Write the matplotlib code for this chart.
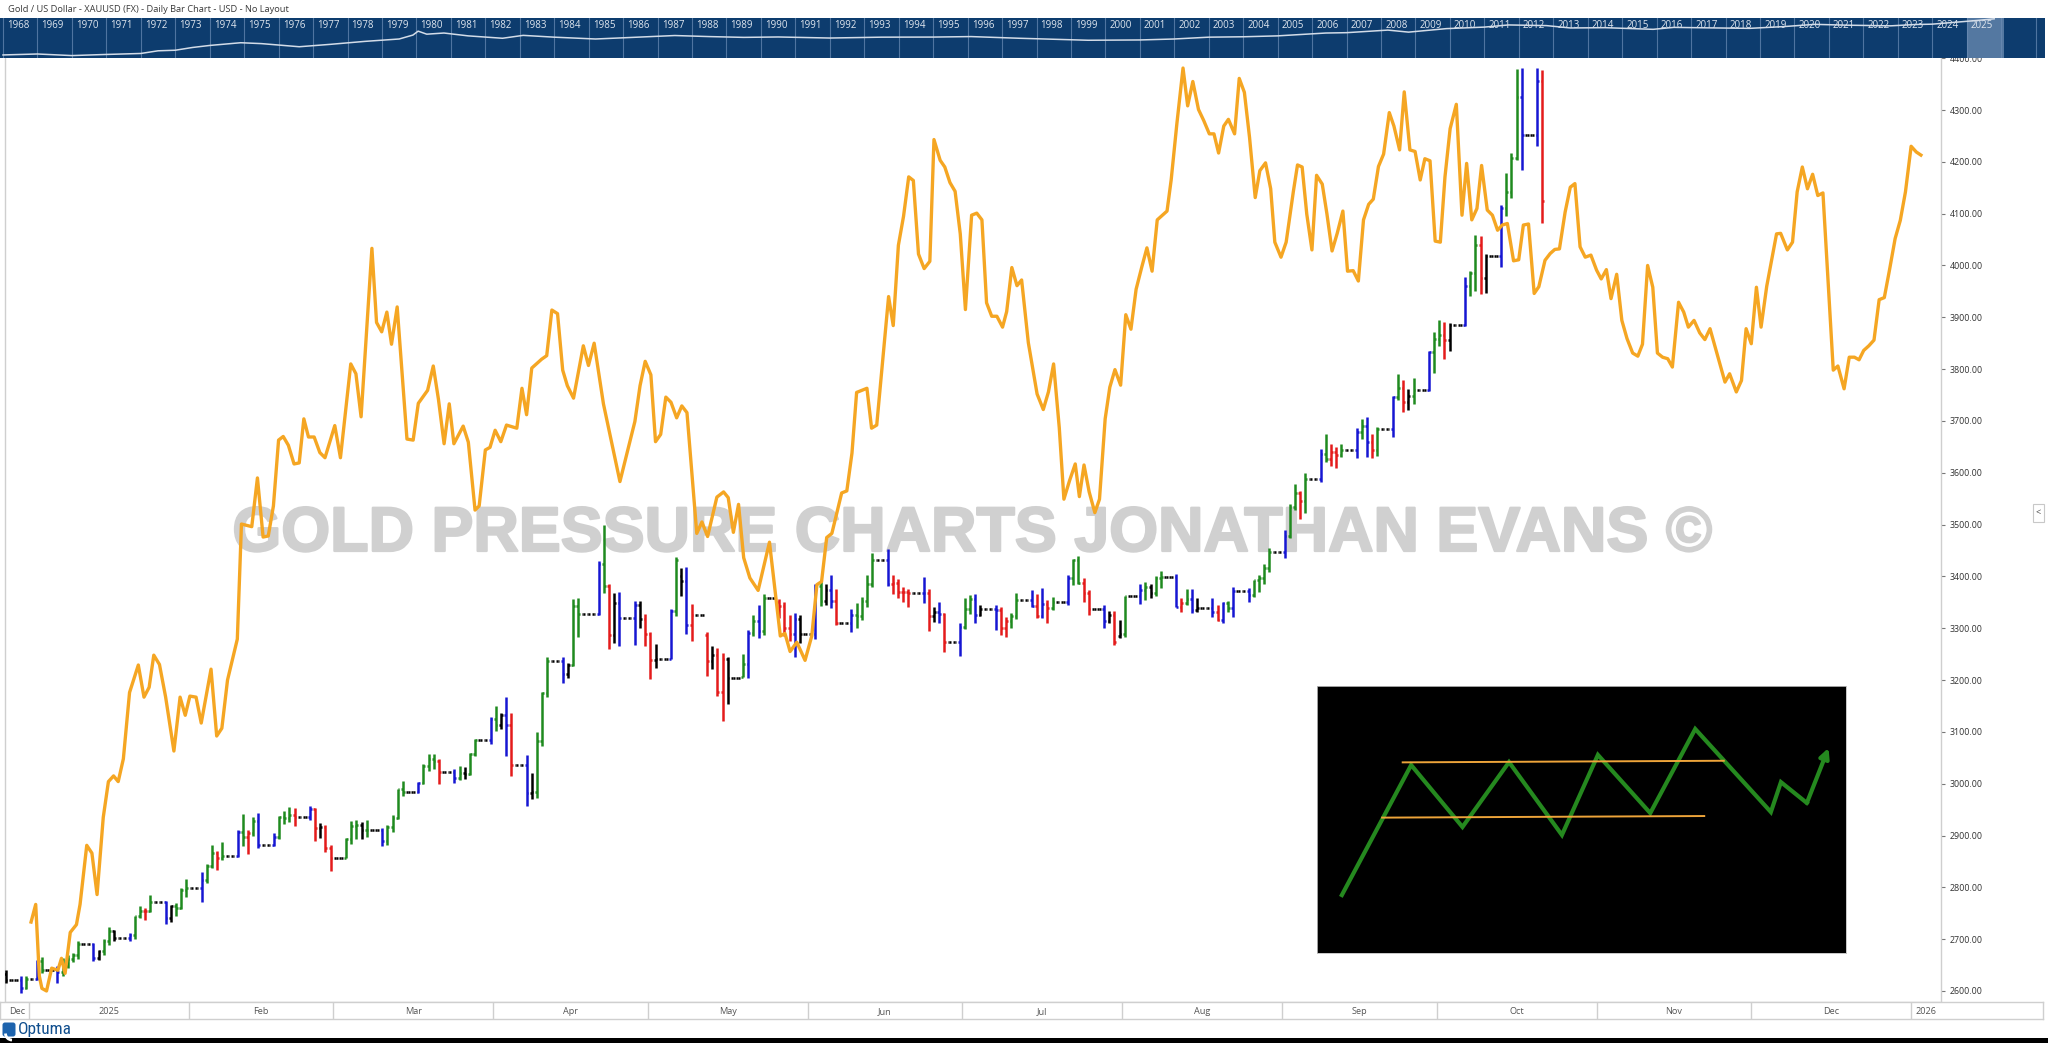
import numpy as np
import pandas as pd
import matplotlib
matplotlib.use("Agg")
import matplotlib.pyplot as plt
import matplotlib.dates as mdates
import matplotlib.patheffects as pe
from matplotlib.collections import LineCollection
from matplotlib.patches import Rectangle, FancyBboxPatch, Arc

# ------------------------------------------------------------------ data
TITLE = "Gold / US Dollar - XAUUSD (FX) - Daily Bar Chart - USD - No Layout"
WATERMARK = "GOLD PRESSURE CHARTS JONATHAN EVANS \u00a9"
LOGO_TEXT = "Optuma"

price_ticks = [2600, 2700, 2800, 2900, 3000, 3100, 3200, 3300, 3400, 3500,
               3600, 3700, 3800, 3900, 4000, 4100, 4200, 4300, 4400]
month_labels = ["Dec", "2025", "Feb", "Mar", "Apr", "May", "Jun", "Jul",
                "Aug", "Sep", "Oct", "Nov", "Dec", "2026"]
nav_years_labels = list(range(1968, 2026))
holidays = ["2025-01-01", "2025-04-18"]

# daily XAUUSD bars (open, high, low, close) for trading days
ohlc_2024_12 = [(2633, 2640, 2616, 2621), (2621, 2628, 2597, 2606), (2606, 2629, 2603, 2624)]
ohlc_2025_01 = [
    (2624, 2660, 2621, 2658), (2658, 2665, 2634, 2640), (2640, 2649, 2615, 2636),
    (2636, 2663, 2628, 2648), (2648, 2670, 2644, 2661), (2661, 2674, 2655, 2670),
    (2670, 2697, 2661, 2690), (2690, 2693, 2657, 2663), (2663, 2680, 2660, 2677),
    (2677, 2700, 2670, 2697), (2697, 2724, 2689, 2715), (2715, 2718, 2697, 2703),
    (2703, 2712, 2696, 2708), (2708, 2745, 2700, 2745), (2745, 2763, 2741, 2755),
    (2755, 2761, 2737, 2755), (2755, 2786, 2752, 2771), (2771, 2773, 2730, 2740),
    (2740, 2765, 2733, 2763), (2763, 2769, 2745, 2760), (2760, 2799, 2758, 2794),
    (2794, 2817, 2781, 2798)]
ohlc_2025_02 = [
    (2798, 2830, 2772, 2815), (2815, 2845, 2809, 2842), (2842, 2882, 2838, 2866),
    (2866, 2870, 2834, 2856), (2856, 2887, 2853, 2861), (2861, 2911, 2858, 2907),
    (2907, 2942, 2880, 2897), (2897, 2910, 2864, 2904), (2904, 2936, 2900, 2928),
    (2928, 2943, 2876, 2882), (2882, 2904, 2880, 2898), (2898, 2938, 2894, 2935),
    (2935, 2947, 2922, 2933), (2933, 2955, 2927, 2940), (2940, 2954, 2919, 2936),
    (2936, 2956, 2930, 2952), (2952, 2954, 2889, 2915), (2915, 2925, 2896, 2916),
    (2916, 2921, 2868, 2875), (2875, 2882, 2832, 2857)]
ohlc_2025_03 = [
    (2857, 2896, 2857, 2893), (2893, 2928, 2883, 2918), (2918, 2930, 2894, 2920),
    (2920, 2927, 2894, 2911), (2911, 2930, 2898, 2910), (2910, 2914, 2880, 2889),
    (2889, 2921, 2881, 2916), (2916, 2940, 2906, 2934), (2934, 2990, 2931, 2989),
    (2989, 3005, 2977, 2984), (2984, 3004, 2982, 3001), (3001, 3038, 2999, 3034),
    (3034, 3057, 3024, 3047), (3047, 3058, 3028, 3044), (3044, 3047, 2999, 3022),
    (3022, 3029, 3002, 3011), (3011, 3035, 3007, 3020), (3020, 3033, 3009, 3018),
    (3018, 3060, 3016, 3057), (3057, 3087, 3054, 3085), (3085, 3128, 3076, 3124)]
ohlc_2025_04 = [
    (3124, 3149, 3101, 3113), (3113, 3136, 3106, 3133), (3133, 3167, 3054, 3114),
    (3114, 3136, 3015, 3037), (3037, 3055, 2957, 2982), (2982, 3021, 2970, 2983),
    (2983, 3099, 2972, 3083), (3083, 3176, 3072, 3175), (3175, 3245, 3168, 3237),
    (3237, 3245, 3194, 3211), (3211, 3232, 3204, 3229), (3229, 3357, 3228, 3343),
    (3343, 3358, 3284, 3327), (3327, 3430, 3325, 3424), (3424, 3500, 3367, 3381),
    (3381, 3386, 3260, 3287), (3287, 3367, 3272, 3349), (3349, 3370, 3265, 3319),
    (3319, 3352, 3268, 3344), (3344, 3352, 3301, 3317), (3317, 3328, 3266, 3288)]
ohlc_2025_05 = [
    (3288, 3292, 3202, 3238), (3238, 3269, 3223, 3241), (3241, 3337, 3240, 3334),
    (3334, 3438, 3324, 3431), (3400, 3416, 3362, 3391), (3391, 3418, 3288, 3306),
    (3306, 3347, 3275, 3325), (3286, 3292, 3208, 3236), (3236, 3265, 3222, 3249),
    (3249, 3262, 3170, 3176), (3176, 3252, 3121, 3240), (3240, 3245, 3153, 3203),
    (3205, 3250, 3205, 3230), (3230, 3296, 3204, 3290), (3290, 3325, 3285, 3314),
    (3314, 3345, 3282, 3295), (3295, 3366, 3287, 3358), (3350, 3356, 3320, 3342),
    (3342, 3350, 3285, 3301), (3301, 3325, 3276, 3288), (3288, 3330, 3245, 3318),
    (3318, 3326, 3271, 3289)]
ohlc_2025_06 = [
    (3289, 3385, 3280, 3381), (3381, 3392, 3343, 3353), (3353, 3385, 3345, 3373),
    (3373, 3403, 3339, 3353), (3353, 3375, 3307, 3311), (3311, 3338, 3293, 3326),
    (3326, 3349, 3300, 3323), (3323, 3360, 3316, 3353), (3353, 3403, 3340, 3386),
    (3386, 3446, 3380, 3432), (3432, 3452, 3382, 3385), (3385, 3403, 3366, 3388),
    (3388, 3395, 3358, 3369), (3369, 3380, 3350, 3370), (3370, 3376, 3340, 3368),
    (3368, 3398, 3348, 3368), (3368, 3375, 3295, 3323), (3323, 3340, 3312, 3332),
    (3332, 3350, 3310, 3327), (3327, 3330, 3255, 3274), (3274, 3310, 3247, 3303)]
ohlc_2025_07 = [
    (3303, 3358, 3298, 3338), (3338, 3365, 3328, 3357), (3357, 3366, 3311, 3326),
    (3326, 3345, 3324, 3337), (3337, 3345, 3296, 3335), (3335, 3340, 3287, 3301),
    (3301, 3322, 3283, 3313), (3313, 3330, 3300, 3324), (3324, 3368, 3318, 3355),
    (3355, 3374, 3341, 3343), (3343, 3366, 3320, 3324), (3324, 3377, 3319, 3347),
    (3347, 3355, 3310, 3339), (3339, 3361, 3336, 3350), (3350, 3402, 3345, 3396),
    (3396, 3433, 3384, 3431), (3431, 3439, 3385, 3387), (3387, 3396, 3351, 3368),
    (3368, 3373, 3325, 3337), (3337, 3345, 3301, 3314), (3314, 3334, 3310, 3326),
    (3326, 3333, 3268, 3274), (3285, 3315, 3281, 3289)]
ohlc_2025_08 = [
    (3289, 3363, 3283, 3363), (3363, 3385, 3346, 3373), (3373, 3390, 3355, 3380),
    (3380, 3385, 3358, 3368), (3368, 3400, 3362, 3396), (3396, 3410, 3378, 3398),
    (3398, 3404, 3341, 3341), (3341, 3359, 3331, 3348), (3348, 3375, 3345, 3356),
    (3356, 3376, 3330, 3336), (3336, 3358, 3331, 3339), (3339, 3358, 3321, 3332),
    (3332, 3345, 3314, 3315), (3315, 3350, 3311, 3348), (3348, 3352, 3331, 3339),
    (3339, 3379, 3322, 3371), (3371, 3377, 3351, 3365), (3365, 3394, 3361, 3393),
    (3393, 3402, 3370, 3397), (3397, 3424, 3386, 3416), (3416, 3454, 3409, 3448)]
ohlc_2025_09 = [
    (3448, 3490, 3436, 3477), (3477, 3540, 3475, 3533), (3533, 3578, 3528, 3560),
    (3560, 3565, 3511, 3545), (3545, 3600, 3522, 3587), (3587, 3646, 3583, 3636),
    (3636, 3674, 3620, 3626), (3626, 3655, 3614, 3641), (3641, 3650, 3610, 3634),
    (3634, 3656, 3630, 3643), (3643, 3686, 3629, 3679), (3679, 3703, 3666, 3690),
    (3690, 3707, 3630, 3660), (3660, 3675, 3628, 3644), (3644, 3689, 3633, 3685),
    (3685, 3749, 3669, 3746), (3746, 3791, 3741, 3763), (3763, 3779, 3717, 3736),
    (3736, 3761, 3722, 3749), (3749, 3782, 3733, 3760), (3760, 3834, 3758, 3833),
    (3833, 3872, 3792, 3858)]
ohlc_2025_10 = [
    (3858, 3895, 3845, 3865), (3865, 3890, 3820, 3856), (3856, 3889, 3834, 3886),
    (3886, 3977, 3884, 3960), (3960, 3990, 3942, 3985), (3985, 4059, 3950, 4040),
    (4040, 4057, 3944, 3976), (3976, 4022, 3947, 4018), (4018, 4116, 3998, 4110),
    (4110, 4179, 4095, 4142), (4142, 4218, 4130, 4208), (4208, 4380, 4204, 4326),
    (4326, 4381, 4185, 4252), (4252, 4382, 4230, 4356), (4356, 4378, 4082, 4125)]

# orange overlay line: (days after 2025-01-01, value on the price scale)
orange_day = [
    0.4, 1.3, 2.0, 2.5, 3.4, 4.4, 5.6, 6.3, 7.0, 8.0, 9.2, 9.9, 11.2, 12.2, 13.2, 14.4,
    15.4, 16.4, 17.3, 18.3, 19.5, 21.2, 22.3, 23.3, 24.2, 25.3, 26.5, 28.1, 29.3, 30.3,
    31.2, 32.4, 33.4, 35.3, 36.4, 37.4, 38.5, 40.4, 41.2, 43.2, 44.3, 45.4, 46.4, 47.4,
    48.4, 49.3, 50.3, 51.4, 52.4, 53.3, 54.2, 55.3, 56.4, 57.4, 59.3, 60.4, 62.4, 63.4,
    64.4, 66.5, 67.4, 68.4, 69.4, 70.3, 71.4, 73.3, 74.5, 75.5, 77.3, 78.4, 79.4, 80.5,
    81.5, 82.4, 84.2, 85.2, 86.5, 87.3, 88.5, 89.4, 90.4, 91.5, 92.6, 94.6, 95.6, 96.5,
    97.5, 99.4, 100.4, 101.4, 102.5, 103.5, 104.4, 105.6, 107.5, 108.5, 109.6, 111.4,
    114.6, 116.2, 117.5, 118.5, 119.5, 120.6, 121.5, 122.5, 123.5, 124.5, 125.6, 126.6,
    127.6, 129.5, 130.5, 131.6, 133.4, 134.7, 135.6, 136.6, 137.6, 138.6, 139.8, 141.4,
    143.6, 145.7, 146.6, 147.6, 148.9, 150.5, 151.8, 152.8, 153.7, 154.7, 155.7, 157.6,
    158.6, 159.6, 160.5, 162.5, 163.4, 164.4, 166.7, 167.6, 168.6, 169.6, 170.6, 171.5,
    172.5, 173.6, 174.7, 175.5, 176.7, 177.6, 178.6, 179.6, 180.6, 181.6, 182.8, 183.8,
    184.8, 185.7, 186.7, 187.7, 188.8, 189.6, 190.6, 191.6, 192.5, 193.8, 195.5, 196.7,
    197.7, 198.7, 199.8, 200.7, 201.8, 202.9, 203.7, 204.6, 205.6, 206.7, 207.6, 208.7,
    209.6, 210.6, 211.7, 212.7, 213.7, 214.7, 215.8, 216.8, 217.8, 218.8, 219.8, 220.7,
    221.5, 222.6, 223.8, 224.7, 225.7, 226.8, 227.8, 228.9, 229.8, 230.7, 231.7, 232.6,
    233.8, 234.7, 235.7, 236.7, 237.8, 238.7, 239.8, 240.8, 241.6, 242.8, 243.8, 245.2,
    246.0, 246.9, 247.8, 248.8, 249.7, 250.8, 251.7, 252.7, 253.7, 254.8, 255.7, 256.8,
    257.8, 258.8, 259.8, 260.7, 261.7, 262.7, 263.8, 264.7, 265.8, 266.7, 267.8, 268.8,
    269.8, 270.7, 271.7, 272.7, 273.7, 274.6, 275.6, 276.8, 277.9, 278.8, 279.8, 280.8,
    281.7, 282.8, 283.8, 284.8, 285.7, 286.7, 287.9, 288.9, 289.8, 290.8, 291.9, 292.8,
    294.0, 295.0, 295.9, 296.8, 297.9, 298.9, 299.8, 300.8, 301.8, 302.9, 304.0, 304.9,
    305.9, 306.8, 307.9, 308.9, 309.9, 311.0, 312.0, 312.9, 313.9, 314.9, 315.8, 316.8,
    317.8, 318.7, 319.9, 320.9, 321.8, 322.9, 324.0, 325.0, 326.0, 328.9, 329.8, 331.1,
    332.1, 333.0, 334.0, 335.0, 335.9, 337.0, 338.9, 339.7, 341.0, 342.0, 342.9, 343.9,
    344.9, 345.9, 346.9, 347.9, 349.9, 350.8, 352.0, 353.0, 354.0, 354.9, 355.8, 356.8,
    357.8, 358.8, 359.8, 360.8, 361.9, 362.9, 363.9, 365.0, 366.0, 366.9]
orange_val = [
    2733, 2767, 2629, 2605, 2600, 2644, 2640, 2663, 2634, 2713, 2728, 2767, 2881, 2866, 2786, 2935,
    3004, 3015, 3004, 3048, 3176, 3229, 3167, 3186, 3248, 3230, 3167, 3063, 3167, 3132,
    3169, 3167, 3117, 3221, 3092, 3107, 3200, 3279, 3501, 3496, 3590, 3476, 3478, 3536,
    3663, 3670, 3653, 3617, 3619, 3704, 3669, 3669, 3639, 3629, 3691, 3629, 3810, 3791,
    3708, 4033, 3890, 3872, 3910, 3848, 3920, 3665, 3663, 3734, 3759, 3806, 3742, 3656,
    3733, 3656, 3690, 3659, 3528, 3536, 3644, 3649, 3682, 3660, 3692, 3686, 3763, 3712,
    3802, 3819, 3826, 3914, 3907, 3798, 3768, 3744, 3845, 3807, 3850, 3733,
    3583, 3647, 3699, 3768, 3815, 3789, 3660, 3674, 3746, 3736, 3706, 3729,
    3716, 3483, 3505, 3477, 3553, 3563, 3552, 3485, 3539, 3436, 3397, 3373,
    3466, 3285, 3290, 3255, 3273, 3238, 3285, 3384, 3390, 3475, 3483, 3561,
    3565, 3638, 3755, 3763, 3686, 3692, 3940, 3884, 4039, 4095, 4171, 4164,
    4022, 3994, 4008, 4243, 4203, 4190, 4160, 4143, 4061, 3915, 4097, 4101,
    4088, 3928, 3902, 3902, 3881, 3911, 3996, 3961, 3972, 3851, 3752, 3722,
    3756, 3810, 3687, 3549, 3585, 3617, 3554, 3615, 3563, 3523, 3549, 3704,
    3765, 3799, 3769, 3905, 3877, 3954, 3997, 4034, 3989, 4088, 4097, 4105,
    4165, 4273, 4381, 4308, 4355, 4301, 4280, 4254, 4254, 4217, 4269, 4282,
    4254, 4361, 4334, 4247, 4131, 4183, 4198, 4148, 4045, 4016, 4045, 4143,
    4194, 4190, 4099, 4030, 4174, 4157, 4100, 4028, 4062, 4105, 3989, 3990,
    3970, 4088, 4118, 4128, 4191, 4215, 4295, 4269, 4223, 4335, 4223, 4220,
    4165, 4206, 4202, 4047, 4045, 4171, 4264, 4311, 4097, 4197, 4088, 4110,
    4193, 4107, 4097, 4068, 4078, 4081, 4009, 4011, 4078, 4080, 3946, 3959,
    4010, 4023, 4031, 4032, 4103, 4151, 4158, 4036, 4016, 4020, 3991, 3974,
    3992, 3936, 3983, 3894, 3859, 3831, 3825, 3848, 4000, 3958, 3831, 3823,
    3820, 3804, 3929, 3910, 3881, 3894, 3870, 3857, 3878, 3775, 3791, 3756,
    3778, 3878, 3849, 3958, 3881, 3960, 4061, 4062, 4030, 4045, 4142, 4190,
    4148, 4176, 4135, 4140, 3798, 3806, 3762, 3823, 3823, 3818, 3836, 3845,
    3856, 3934, 3938, 3991, 4052, 4087, 4142, 4230, 4219, 4213]

# navigator strip: long-term gold history (year, USD/oz)
nav_year = [1968.0, 1969.0, 1970.0, 1970.9, 1972.0, 1972.5, 1973.0, 1973.5, 1974.0, 1974.9,
            1975.5, 1976.6, 1977.5, 1978.5, 1979.5, 1979.9, 1980.05, 1980.3, 1980.8, 1981.5,
            1982.5, 1983.1, 1984.0, 1985.2, 1986.0, 1987.5, 1988.5, 1989.5, 1990.5, 1992.0,
            1993.5, 1995.0, 1996.1, 1997.5, 1999.5, 2001.0, 2002.0, 2003.0, 2004.0, 2005.0,
            2006.4, 2007.0, 2008.2, 2008.8, 2009.9, 2011.0, 2011.7, 2012.8, 2013.5, 2014.5,
            2015.9, 2016.5, 2017.5, 2018.7, 2019.7, 2020.6, 2021.5, 2022.8, 2023.5, 2024.0,
            2024.8, 2025.3, 2025.8]
nav_price = [38, 43, 35, 40, 46, 65, 70, 100, 130, 185,
             165, 110, 150, 220, 300, 500, 830, 560, 650, 450,
             330, 480, 380, 300, 350, 470, 410, 370, 390, 340,
             380, 385, 410, 330, 255, 265, 300, 380, 400, 450,
             650, 680, 950, 730, 1150, 1400, 1850, 1700, 1250, 1300,
             1050, 1350, 1270, 1190, 1500, 2000, 1800, 1650, 1950, 2050,
             2750, 3300, 4100]

# inset schematic (relative coordinates inside the black panel)
zig_x = [0.047, 0.178, 0.275, 0.363, 0.463, 0.531, 0.630, 0.715, 0.858, 0.877, 0.926]
zig_y = [0.217, 0.704, 0.472, 0.715, 0.442, 0.742, 0.524, 0.839, 0.528, 0.640, 0.562]
zig_tip = (0.967, 0.768)
upper_x, upper_y = [0.162, 0.769], [0.714, 0.720]
lower_x, lower_y = [0.123, 0.732], [0.507, 0.513]

# ------------------------------------------------------------------ styles
W, H = 2048, 1043
GREEN, RED, BLUE, BLACK = "#1f8a1f", "#e41b1b", "#1616d2", "#000000"
ORANGE = "#f5a623"
NAVY = "#0d3c6e"
GRID = "#cfcfcf"
FONT = ["Open Sans", "DejaVu Sans"]
plt.rcParams["font.family"] = FONT

fig = plt.figure(figsize=(W / 100, H / 100), dpi=100)
fig.patch.set_facecolor("white")


def rect(x0, y0, x1, y1):
    """pixel box (top-based y) -> figure fraction rect"""
    return [x0 / W, 1 - y1 / H, (x1 - x0) / W, (y1 - y0) / H]


# overlay axes in pixel coordinates for decorations
ov = fig.add_axes([0, 0, 1, 1])
ov.set_xlim(0, W)
ov.set_ylim(H, 0)
ov.axis("off")
ov.text(8, 9, TITLE, fontsize=6.7, color="#3a3a3a", va="center", ha="left")
ov.add_patch(Rectangle((0, 1038), W, 5, color="black", lw=0))
ov.add_patch(FancyBboxPatch((2.5, 1022.5), 13, 14, boxstyle="round,pad=0,rounding_size=2.5",
                            fc="#1d63ad", ec="none"))
ov.add_patch(Arc((12, 1033.5), 13, 13, theta1=90, theta2=180, color="white", lw=2.0))
ov.text(17.5, 1029.5, LOGO_TEXT, fontsize=12.5, color="#114f8e", va="center", ha="left",
        family=["Roboto Condensed", "Open Sans", "DejaVu Sans"])
ov.add_patch(Rectangle((2033, 504), 11, 18, fc="white", ec="#c8c8c8", lw=0.8))
ov.text(2038.5, 513, "<", fontsize=6.5, color="#444444", ha="center", va="center")

# ------------------------------------------------------------------ bars
blocks = [("2024-12-27", "2024-12-31", ohlc_2024_12), ("2025-01-01", "2025-01-31", ohlc_2025_01),
          ("2025-02-01", "2025-02-28", ohlc_2025_02), ("2025-03-01", "2025-03-31", ohlc_2025_03),
          ("2025-04-01", "2025-04-30", ohlc_2025_04), ("2025-05-01", "2025-05-31", ohlc_2025_05),
          ("2025-06-01", "2025-06-30", ohlc_2025_06), ("2025-07-01", "2025-07-31", ohlc_2025_07),
          ("2025-08-01", "2025-08-31", ohlc_2025_08), ("2025-09-01", "2025-09-30", ohlc_2025_09),
          ("2025-10-01", "2025-10-21", ohlc_2025_10)]
trade = {}
for start, end, rows in blocks:
    days = [d for d in pd.bdate_range(start, end) if d.strftime("%Y-%m-%d") not in holidays]
    assert len(days) == len(rows), (start, len(days), len(rows))
    for d, r in zip(days, rows):
        trade[d] = r

cal = pd.date_range("2024-12-27", "2025-10-21", freq="D")
bars, prev_close = [], None
for d in cal:
    if d in trade:
        bars.append(trade[d])
    else:
        bars.append((prev_close,) * 4)
    prev_close = bars[-1][3]
bars = np.array(bars, dtype=float)
xb = mdates.date2num(cal.to_pydatetime()) + 0.5

colors = [BLACK]
for i in range(1, len(bars)):
    hh = bars[i, 1] > bars[i - 1, 1]
    ll = bars[i, 2] < bars[i - 1, 2]
    colors.append(BLUE if (hh and ll) else GREEN if hh else RED if ll else BLACK)

jan1 = mdates.date2num(pd.Timestamp("2025-01-01").to_pydatetime())
px_per_day = 5.1565
x0 = jan1 - 24 / px_per_day
x1 = jan1 + (1941 - 29) / px_per_day

ax = fig.add_axes(rect(5, 57, 1941, 1002))
ax.set_xlim(x0, x1)
ax.set_ylim(2578.7, 4402.3)
ax.set_facecolor("white")

tw = 0.33
segs, segc = [], []
for x, (o, h, l, c), col in zip(xb, bars, colors):
    if h > l:
        segs.append([(x, l), (x, h)])
        segc.append(col)
    segs.append([(x - tw, o), (x, o)])
    segc.append(col)
    segs.append([(x, c), (x + tw, c)])
    segc.append(col)
ax.add_collection(LineCollection(segs, colors=segc, linewidths=1.8, capstyle="butt", zorder=3))

ax.plot(jan1 + np.array(orange_day), orange_val, color=ORANGE, lw=2.4, zorder=4,
        solid_joinstyle="round")

wm = ax.text(0.5, (1002 - 551) / 945, WATERMARK, transform=ax.transAxes, ha="center",
             va="baseline", fontsize=43, fontweight="bold", family=["Liberation Sans", "DejaVu Sans"],
             color="#d0d0d0", zorder=1,
             path_effects=[pe.withStroke(linewidth=1.6, foreground="#d0d0d0")])
fig.canvas.draw()
bb = wm.get_window_extent()
wm.set_fontsize(43 * 1480 / bb.width)

ax.yaxis.tick_right()
ax.set_yticks(price_ticks)
ax.set_yticklabels([f"{v:.2f}" for v in price_ticks])
ax.tick_params(axis="y", length=3, width=0.8, color="#777777", labelsize=6.4,
               labelcolor="#333333", pad=3)
ax.set_xticks([])
for side in ["left", "right", "bottom"]:
    ax.spines[side].set_color(GRID)
    ax.spines[side].set_linewidth(1.0)
ax.spines["top"].set_visible(False)

# ------------------------------------------------------------------ date band
band = fig.add_axes(rect(0, 1002, 2043, 1019))
band.set_xlim(x0 - 5 / px_per_day, x1 + 102 / px_per_day)
band.set_ylim(0, 1)
band.set_xticks([])
band.set_yticks([])
for s in band.spines.values():
    s.set_color(GRID)
    s.set_linewidth(1.0)
month_starts = pd.date_range("2024-12-01", "2026-02-01", freq="MS")
ms = mdates.date2num(month_starts.to_pydatetime())
for i, lab in enumerate(month_labels):
    a, b = ms[i], ms[i + 1]
    if x0 < a < x1:
        band.axvline(a, color=GRID, lw=1.0)
    lo, hi = max(a, x0), min(b, x1)
    band.text((lo + hi) / 2, 0.45, lab, ha="center", va="center", fontsize=6.6, color="#555555")

# ------------------------------------------------------------------ navigator
nav = fig.add_axes(rect(0, 18, 2045, 58))
nav.set_facecolor(NAVY)
nav.set_xlim(1968 - 3 / 34.45, 1968 + 2042 / 34.45)
nav.set_yscale("log")
nav.set_ylim(25.6, 4550)
nav.set_xticks([])
nav.set_yticks([])
nav.minorticks_off()
for s in nav.spines.values():
    s.set_visible(False)
for yr in nav_years_labels + [2026, 2027]:
    nav.axvline(yr, color="#4f74a0", lw=0.8, zorder=1)
for yr in nav_years_labels:
    nav.text(yr + 0.12, 0.82, str(yr), transform=nav.get_xaxis_transform(), fontsize=7.0,
             color="#dfe6ee", ha="left", va="center", zorder=3)
nav.axvspan(2025.0, 2026.07, color="#6d8db3", alpha=0.75, lw=0, zorder=2)
nav.plot(nav_year, nav_price, color="#d3dce8", lw=1.1, zorder=4)

# ------------------------------------------------------------------ inset schematic
ins = fig.add_axes(rect(1317, 686, 1846, 953))
ins.set_facecolor("black")
ins.set_xlim(0, 1)
ins.set_ylim(0, 1)
ins.set_xticks([])
ins.set_yticks([])
for s in ins.spines.values():
    s.set_color("#bdbdbd")
    s.set_linewidth(0.6)
ins.plot(zig_x, zig_y, color="#25891f", lw=3.0, solid_joinstyle="miter", zorder=2)
ins.annotate("", xy=zig_tip, xytext=(zig_x[-1], zig_y[-1]),
             arrowprops=dict(arrowstyle="-|>", color="#25891f", lw=3.0, mutation_scale=14,
                             shrinkA=0, shrinkB=0), zorder=2)
ins.plot(upper_x, upper_y, color="#eda43a", lw=1.4, zorder=3)
ins.plot(lower_x, lower_y, color="#eda43a", lw=1.4, zorder=3)

fig.savefig("out.png", dpi=100, facecolor="white")
